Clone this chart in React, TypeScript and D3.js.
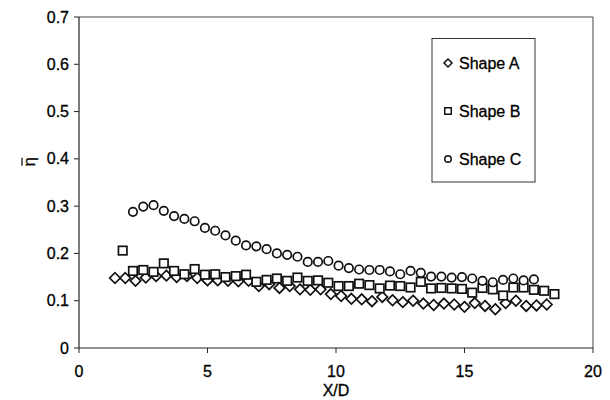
import React from "react";
import * as d3 from "d3";

const xA = [1.4,1.8,2.2,2.6,3.0,3.4,3.8,4.2,4.6,5.0,5.4,5.8,6.2,6.6,7.0,7.4,7.8,8.2,8.6,9.0,9.4,9.8,10.2,10.6,11.0,11.4,11.8,12.2,12.6,13.0,13.4,13.8,14.2,14.6,15.0,15.4,15.8,16.2,16.6,17.0,17.4,17.8,18.2];
const yA = [0.148,0.148,0.142,0.149,0.152,0.153,0.150,0.152,0.148,0.143,0.143,0.142,0.141,0.142,0.131,0.135,0.127,0.131,0.124,0.123,0.124,0.114,0.110,0.104,0.103,0.099,0.108,0.101,0.097,0.100,0.094,0.091,0.094,0.092,0.087,0.095,0.089,0.082,0.095,0.100,0.089,0.090,0.092];

const xB = [1.7,2.1,2.5,2.9,3.3,3.7,4.1,4.5,4.9,5.3,5.7,6.1,6.5,6.9,7.3,7.7,8.1,8.5,8.9,9.3,9.7,10.1,10.5,10.9,11.3,11.7,12.1,12.5,12.9,13.3,13.7,14.1,14.5,14.9,15.3,15.7,16.1,16.5,16.9,17.3,17.7,18.1,18.5];
const yB = [0.206,0.163,0.165,0.161,0.179,0.163,0.156,0.167,0.155,0.156,0.150,0.152,0.155,0.140,0.144,0.147,0.142,0.149,0.142,0.143,0.138,0.131,0.131,0.136,0.133,0.126,0.132,0.131,0.128,0.140,0.126,0.127,0.126,0.125,0.117,0.127,0.124,0.111,0.128,0.128,0.123,0.121,0.114];

const xC = [2.1,2.5,2.9,3.3,3.7,4.1,4.5,4.9,5.3,5.7,6.1,6.5,6.9,7.3,7.7,8.1,8.5,8.9,9.3,9.7,10.1,10.5,10.9,11.3,11.7,12.1,12.5,12.9,13.3,13.7,14.1,14.5,14.9,15.3,15.7,16.1,16.5,16.9,17.3,17.7];
const yC = [0.288,0.299,0.302,0.290,0.279,0.273,0.268,0.254,0.248,0.238,0.227,0.217,0.215,0.209,0.200,0.197,0.193,0.182,0.182,0.184,0.174,0.169,0.166,0.165,0.165,0.162,0.156,0.163,0.159,0.151,0.151,0.149,0.150,0.147,0.142,0.139,0.144,0.147,0.143,0.145];

const xTicks = [0, 5, 10, 15, 20];
const yTicks = [0, 0.1, 0.2, 0.3, 0.4, 0.5, 0.6, 0.7];
const seriesNames = ["Shape A", "Shape B", "Shape C"];

const FONT = "'Liberation Sans', Arial, sans-serif";

function Marker({ kind, cx, cy, s, w }: { kind: number; cx: number; cy: number; s: number; w: number }) {
  const common = { fill: "white", stroke: "#111", strokeWidth: w };
  if (kind === 0) {
    const r = s * 0.62;
    return <path d={`M${cx},${cy - r}L${cx + r},${cy}L${cx},${cy + r}L${cx - r},${cy}Z`} {...common} />;
  }
  if (kind === 1) {
    const h = s / 2;
    return <rect x={cx - h} y={cy - h} width={s} height={s} {...common} />;
  }
  return <circle cx={cx} cy={cy} r={s / 2} {...common} />;
}

export default function App() {
  const left = 79, right = 593, top = 17, bottom = 348;
  const x = d3.scaleLinear().domain([0, 20]).range([left, right]);
  const y = d3.scaleLinear().domain([0, 0.7]).range([bottom, top]);
  const series = [
    { xs: xA, ys: yA },
    { xs: xB, ys: yB },
    { xs: xC, ys: yC },
  ];
  return (
    <svg width={610} height={400} style={{ position: "absolute", left: 0, top: 0, background: "white" }} fontFamily={FONT}>
      <rect x={0} y={0} width={610} height={400} fill="white" />
      {/* frame */}
      <line x1={left} x2={right} y1={top} y2={top} stroke="#444" strokeWidth={1} />
      <line x1={right} x2={right} y1={top} y2={bottom} stroke="#444" strokeWidth={1} />
      <line x1={left} x2={left} y1={top} y2={bottom} stroke="#222" strokeWidth={1.2} />
      <line x1={left} x2={right} y1={bottom} y2={bottom} stroke="#222" strokeWidth={1.2} />
      {yTicks.map((t) => (
        <g key={"y" + t}>
          <line x1={left - 5} x2={left} y1={y(t)} y2={y(t)} stroke="#222" />
          <text x={left - 10} y={y(t) + 5.5} textAnchor="end" fontSize={16} fill="#000" stroke="#000" strokeWidth={0.3}>{t === 0 ? "0" : t.toFixed(1)}</text>
        </g>
      ))}
      {xTicks.map((t) => (
        <g key={"x" + t}>
          <line x1={x(t)} x2={x(t)} y1={bottom} y2={bottom + 5} stroke="#222" />
          <text x={x(t)} y={bottom + 29} textAnchor="middle" fontSize={16} fill="#000" stroke="#000" strokeWidth={0.3}>{t}</text>
        </g>
      ))}
      <text x={x(10)} y={bottom + 48} textAnchor="middle" fontSize={16} fill="#000" stroke="#000" strokeWidth={0.3}>X/D</text>
      <g transform={`translate(35,${y(0.4) + 3}) rotate(-90)`}>
        <text x={0} y={0} textAnchor="middle" fontSize={17} fill="#000" stroke="#000" strokeWidth={0.3}>{"η"}</text>
        <line x1={-4} x2={4} y1={-13} y2={-13} stroke="#000" strokeWidth={1.2} />
      </g>
      {series.map((s, k) =>
        s.xs.map((xv, i) => <Marker key={k + "-" + i} kind={k} cx={x(xv)} cy={y(s.ys[i])} s={8.5} w={1.7} />)
      )}
      {/* legend */}
      <rect x={432} y={38.5} width={103} height={143.5} fill="white" stroke="#333" strokeWidth={1} />
      {seriesNames.map((n, k) => (
        <g key={n}>
          <Marker kind={k} cx={448} cy={63 + k * 48} s={6.5} w={1.5} />
          <text x={459} y={69 + k * 48} fontSize={16} fill="#000" stroke="#000" strokeWidth={0.3}>{n}</text>
        </g>
      ))}
    </svg>
  );
}
